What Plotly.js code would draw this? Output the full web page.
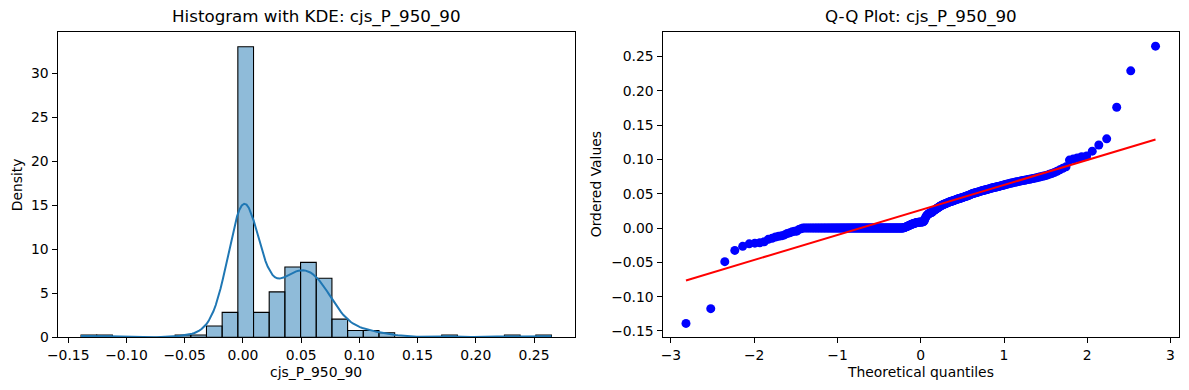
<!DOCTYPE html>
<html>
<head>
<meta charset="utf-8">
<script src="https://cdn.plot.ly/plotly-3.0.1.min.js"></script>
<style>
  html, body { margin: 0; padding: 0; background: #ffffff; }
  #chart { width: 1189px; height: 390px; }
</style>
</head>
<body>
<div id="chart"></div>
<script>
const variableName = "cjs_P_950_90";

const negativeValues = [
  -0.139, -0.1175, -0.049, -0.0326, -0.0267, -0.0230, -0.0220, -0.0215, -0.0200, -0.0165, -0.0150,
  -0.0130, -0.0120, -0.0112, -0.0100, -0.0080, -0.0070, -0.0055, -0.0048, -0.0045, -0.0020, -0.0010
];

const zeroValues = [
  0,0,0,0,0,0,0,0,0,0, 0,0,0,0,0,0,0,0,0,0, 0,0,0,0,0,0,0,0,0,0, 0,0,0,0,0,0,0,0,0,0,
  0,0,0,0,0,0,0,0,0,0, 0,0,0,0,0,0,0,0,0,0, 0,0,0,0,0,0,0,0,0,0, 0,0,0,0,0,0,0,0,0,0,
  0,0,0,0,0,0,0,0,0,0, 0,0,0,0,0,0,0,0
];

const smallPositiveValues = [
  0.0004, 0.0008, 0.0012, 0.0016, 0.0020, 0.0025, 0.0030, 0.0035, 0.0040, 0.0045, 0.0050, 0.0054,
  0.0058, 0.0062, 0.0066, 0.0070, 0.0073, 0.0076, 0.0079, 0.0081, 0.0083, 0.0085, 0.0086, 0.0087,
  0.0088, 0.0089, 0.0089, 0.0090
];

const positiveValues = [
  0.0100, 0.0125, 0.0150, 0.0170, 0.0185, 0.0195, 0.0205, 0.0212, 0.0218, 0.0222, 0.0225,
  0.0230, 0.0240, 0.0250, 0.0258, 0.0265, 0.0272, 0.0280, 0.0288, 0.0295, 0.0302, 0.0310, 0.0317,
  0.0324, 0.0330, 0.0336, 0.0341, 0.0346, 0.0351, 0.0355, 0.0359,
  0.0363, 0.0368, 0.0373, 0.0378, 0.0382, 0.0386, 0.0390, 0.0394, 0.0398, 0.0402, 0.0406, 0.0410,
  0.0414, 0.0418, 0.0422, 0.0426, 0.0430, 0.0434, 0.0438, 0.0442, 0.0446, 0.0450, 0.0454, 0.0458,
  0.0462, 0.0466, 0.0470, 0.0475, 0.0480, 0.0486, 0.0492,
  0.0498, 0.0502, 0.0506, 0.0510, 0.0514, 0.0518, 0.0522, 0.0526, 0.0530, 0.0534, 0.0538, 0.0542,
  0.0546, 0.0550, 0.0554, 0.0558, 0.0562, 0.0566, 0.0570, 0.0574, 0.0578, 0.0582, 0.0586, 0.0590,
  0.0594, 0.0598, 0.0602, 0.0606, 0.0610, 0.0614, 0.0618, 0.0622, 0.0626,
  0.0633, 0.0638, 0.0643, 0.0647, 0.0652, 0.0656, 0.0661, 0.0665, 0.0670, 0.0674, 0.0679, 0.0683,
  0.0688, 0.0692, 0.0697, 0.0701, 0.0706, 0.0711, 0.0716, 0.0721, 0.0727, 0.0733, 0.0740, 0.0747,
  0.0754, 0.0762,
  0.0770, 0.0782, 0.0795, 0.0810, 0.0828, 0.0848, 0.0870, 0.0892,
  0.0990, 0.1005, 0.1020,
  0.1040, 0.1050, 0.1120,
  0.1210, 0.1300,
  0.1760, 0.2290, 0.2650
];

const histBinCount = 30;
const histYTicks = [0, 5, 10, 15, 20, 25, 30];
const histXTicks = [-0.15, -0.10, -0.05, 0.00, 0.05, 0.10, 0.15, 0.20, 0.25];
const qqXTicks = [-3, -2, -1, 0, 1, 2, 3];
const qqYTicks = [-0.15, -0.10, -0.05, 0.00, 0.05, 0.10, 0.15, 0.20, 0.25];

// ---- Derived statistics ----
const sample = negativeValues.concat(zeroValues, smallPositiveValues, positiveValues).sort((a, b) => a - b);
const n = sample.length;
const vmin = sample[0], vmax = sample[n - 1];
const binW = (vmax - vmin) / histBinCount;

// histogram (numpy style, last bin closed)
const counts = new Array(histBinCount).fill(0);
sample.forEach(v => {
  let k = Math.floor((v - vmin) / binW);
  if (k >= histBinCount) k = histBinCount - 1;
  if (k < 0) k = 0;
  counts[k]++;
});
const binCenters = counts.map((c, k) => vmin + (k + 0.5) * binW);
const densities = counts.map(c => c / (n * binW));

// KDE (Gaussian, Scott's rule), evaluated over data range
const mean = sample.reduce((a, b) => a + b, 0) / n;
const sd = Math.sqrt(sample.reduce((a, b) => a + (b - mean) * (b - mean), 0) / (n - 1));
const bw = sd * Math.pow(n, -0.2);
const gridN = 200;
const kdeX = [], kdeY = [];
for (let g = 0; g < gridN; g++) {
  const x = vmin + (vmax - vmin) * g / (gridN - 1);
  let s = 0;
  for (let i = 0; i < n; i++) {
    const z = (x - sample[i]) / bw;
    s += Math.exp(-0.5 * z * z);
  }
  kdeX.push(x);
  kdeY.push(s / (n * bw * Math.sqrt(2 * Math.PI)));
}

// Normal quantile (Acklam)
function norminv(p) {
  const a = [-3.969683028665376e+01, 2.209460984245205e+02, -2.759285104469687e+02, 1.383577518672690e+02, -3.066479806614716e+01, 2.506628277459239e+00];
  const b = [-5.447609879822406e+01, 1.615858368580409e+02, -1.556989798598866e+02, 6.680131188771972e+01, -1.328068155288572e+01];
  const c = [-7.784894002430293e-03, -3.223964580411365e-01, -2.400758277161838e+00, -2.549732539343734e+00, 4.374664141464968e+00, 2.938163982698783e+00];
  const d = [7.784695709041462e-03, 3.224671290700398e-01, 2.445134137142996e+00, 3.754408661907416e+00];
  const pl = 0.02425, ph = 1 - pl;
  let q, r;
  if (p < pl) {
    q = Math.sqrt(-2 * Math.log(p));
    return (((((c[0]*q + c[1])*q + c[2])*q + c[3])*q + c[4])*q + c[5]) / ((((d[0]*q + d[1])*q + d[2])*q + d[3])*q + 1);
  } else if (p <= ph) {
    q = p - 0.5; r = q * q;
    return (((((a[0]*r + a[1])*r + a[2])*r + a[3])*r + a[4])*r + a[5]) * q / (((((b[0]*r + b[1])*r + b[2])*r + b[3])*r + b[4])*r + 1);
  } else {
    q = Math.sqrt(-2 * Math.log(1 - p));
    return -(((((c[0]*q + c[1])*q + c[2])*q + c[3])*q + c[4])*q + c[5]) / ((((d[0]*q + d[1])*q + d[2])*q + d[3])*q + 1);
  }
}

// Filliben order statistic medians (as scipy.stats.probplot)
const med = new Array(n);
med[n - 1] = Math.pow(0.5, 1 / n);
med[0] = 1 - med[n - 1];
for (let i = 1; i < n - 1; i++) med[i] = (i + 1 - 0.3175) / (n + 0.365);
const theo = med.map(norminv);

// least squares fit
const mx = theo.reduce((a, b) => a + b, 0) / n;
let sxy = 0, sxx = 0;
for (let i = 0; i < n; i++) { sxy += (theo[i] - mx) * (sample[i] - mean); sxx += (theo[i] - mx) * (theo[i] - mx); }
const slope = sxy / sxx, intercept = mean - slope * mx;
const fitX = [theo[0], theo[n - 1]];
const fitY = fitX.map(x => intercept + slope * x);

// axis ranges (matplotlib 5% margins)
const hxPad = 0.05 * (vmax - vmin);
const hRangeX = [vmin - hxPad, vmax + hxPad];
const hRangeY = [0, Math.max(...densities) * 1.05];
const qxPad = 0.05 * (theo[n - 1] - theo[0]);
const qRangeX = [theo[0] - qxPad, theo[n - 1] + qxPad];
const qyLo = Math.min(vmin, fitY[0]), qyHi = Math.max(vmax, fitY[1]);
const qyPad = 0.05 * (qyHi - qyLo);
const qRangeY = [qyLo - qyPad, qyHi + qyPad];

// ---- Plot ----
const W = 1189, H = 390;
const font = "DejaVu Sans, Liberation Sans, sans-serif";
const px = v => v / W;
const py = v => 1 - v / H;

const leftDom = [px(57.5), px(575)];
const rightDom = [px(662.5), px(1179)];
const yDom = [py(337.3), py(32.3)];

const axisCommon = {
  showline: true, mirror: true, linecolor: "#000", linewidth: 1,
  ticks: "outside", ticklen: 5, tickwidth: 1, tickcolor: "#000",
  showgrid: false, zeroline: false,
  tickfont: { family: font, size: 13.9, color: "#000" },
  fixedrange: true
};

const traces = [
  {
    type: "bar", x: binCenters, y: densities, width: binW,
    xaxis: "x", yaxis: "y",
    marker: { color: "rgba(31,119,180,0.5)", line: { color: "#000", width: 1.1 } },
    hoverinfo: "skip", showlegend: false
  },
  {
    type: "scatter", mode: "lines", x: kdeX, y: kdeY,
    xaxis: "x", yaxis: "y",
    line: { color: "#1f77b4", width: 2 },
    hoverinfo: "skip", showlegend: false
  },
  {
    type: "scatter", mode: "markers", x: theo, y: sample,
    xaxis: "x2", yaxis: "y2",
    marker: { color: "#0000ff", size: 9, line: { width: 0 } },
    hoverinfo: "skip", showlegend: false
  },
  {
    type: "scatter", mode: "lines", x: fitX, y: fitY,
    xaxis: "x2", yaxis: "y2",
    line: { color: "#ff0000", width: 2 },
    hoverinfo: "skip", showlegend: false
  }
];

const annFont = { family: font, size: 13.9, color: "#000" };
const layout = {
  width: W, height: H,
  margin: { l: 0, r: 0, t: 0, b: 0 },
  paper_bgcolor: "#fff", plot_bgcolor: "#fff",
  bargap: 0,
  showlegend: false,
  xaxis: Object.assign({}, axisCommon, {
    domain: leftDom, anchor: "y", range: hRangeX,
    tickmode: "array", tickvals: histXTicks, ticktext: histXTicks.map(v => (v < 0 ? "\u2212" : "") + Math.abs(v).toFixed(2))
  }),
  yaxis: Object.assign({}, axisCommon, {
    domain: yDom, anchor: "x", range: hRangeY,
    tickmode: "array", tickvals: histYTicks, ticktext: histYTicks.map(String)
  }),
  xaxis2: Object.assign({}, axisCommon, {
    domain: rightDom, anchor: "y2", range: qRangeX,
    tickmode: "array", tickvals: qqXTicks, ticktext: qqXTicks.map(v => (v < 0 ? "\u2212" : "") + Math.abs(v))
  }),
  yaxis2: Object.assign({}, axisCommon, {
    domain: yDom, anchor: "x2", range: qRangeY,
    tickmode: "array", tickvals: qqYTicks, ticktext: qqYTicks.map(v => (v < 0 ? "\u2212" : "") + Math.abs(v).toFixed(2))
  }),
  annotations: [
    { text: "Histogram with KDE: " + variableName, xref: "paper", yref: "paper",
      x: (leftDom[0] + leftDom[1]) / 2, y: py(17), xanchor: "center", yanchor: "middle",
      showarrow: false, font: { family: font, size: 16.7, color: "#000" } },
    { text: "Q-Q Plot: " + variableName, xref: "paper", yref: "paper",
      x: (rightDom[0] + rightDom[1]) / 2, y: py(17), xanchor: "center", yanchor: "middle",
      showarrow: false, font: { family: font, size: 16.7, color: "#000" } },
    { text: variableName, xref: "paper", yref: "paper",
      x: (leftDom[0] + leftDom[1]) / 2, y: py(372), xanchor: "center", yanchor: "middle",
      showarrow: false, font: annFont },
    { text: "Theoretical quantiles", xref: "paper", yref: "paper",
      x: (rightDom[0] + rightDom[1]) / 2, y: py(372), xanchor: "center", yanchor: "middle",
      showarrow: false, font: annFont },
    { text: "Density", xref: "paper", yref: "paper",
      x: px(16.5), y: (yDom[0] + yDom[1]) / 2, xanchor: "center", yanchor: "middle", textangle: -90,
      showarrow: false, font: annFont },
    { text: "Ordered Values", xref: "paper", yref: "paper",
      x: px(595.5), y: (yDom[0] + yDom[1]) / 2, xanchor: "center", yanchor: "middle", textangle: -90,
      showarrow: false, font: annFont }
  ]
};

Plotly.newPlot("chart", traces, layout, { displayModeBar: false, staticPlot: true });
</script>
</body>
</html>
